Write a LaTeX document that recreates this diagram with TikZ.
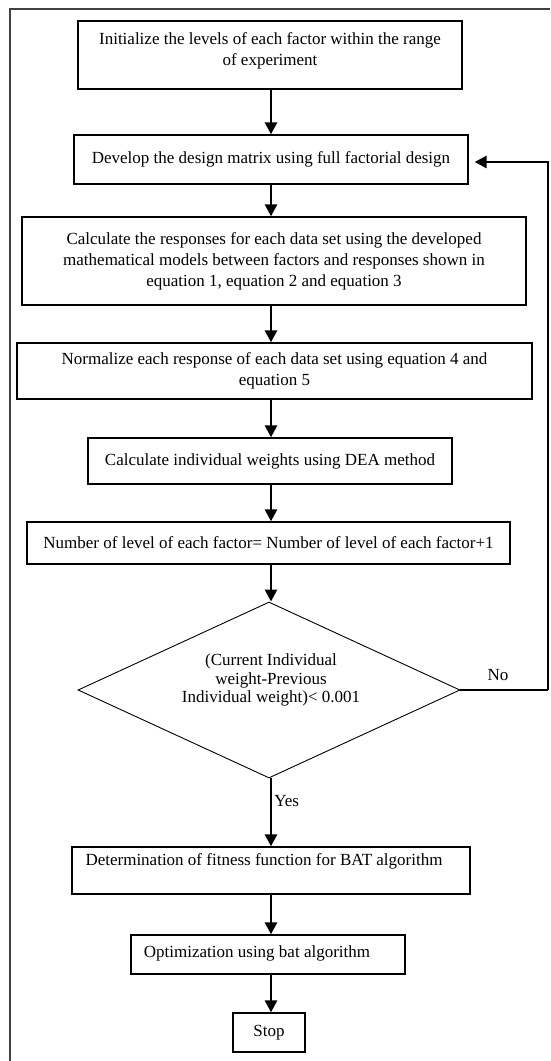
\documentclass[tikz,border=0pt]{standalone}
\usepackage{fontspec}
\setmainfont{Liberation Serif}
\usetikzlibrary{arrows.meta,shapes.geometric}
\begin{document}
\begin{tikzpicture}[x=1pt,y=-1pt,
  stepbox/.style={draw,line width=1.3pt,inner sep=0pt,font=\fontsize{17}{21}\selectfont,align=center},
  txt/.style={inner sep=0pt,font=\fontsize{17}{21}\selectfont,align=center},
  decision/.style={draw,diamond,line width=0.9pt,inner sep=0pt,minimum width=382pt,minimum height=176pt},
  flow/.style={line width=2.6pt,-{Triangle[length=12pt,width=12pt]}},
  loopline/.style={line width=2.4pt},
  frame/.style={line width=1.3pt,black!75}]
\useasboundingbox (0,0) rectangle (550,1061);
\fill[white] (0,0) rectangle (550,1061);
\coordinate (fb) at (10,1061);
\coordinate (fr) at (550,9);
\draw[frame] (fb) |- (fr);
\coordinate (col) at (271,0);
% boxes
\node[stepbox,minimum width=384pt,minimum height=68pt] (b1) at (270,55) {};
\node[txt] (t1) at (270,50.5) {Initialize the levels of each factor within the range\\of experiment};
\node[stepbox,minimum width=394pt,minimum height=49pt] (b2) at (271,159.5) {Develop the design matrix using full factorial design};
\node[stepbox,minimum width=504pt,minimum height=88pt] (b3) at (274,261) {Calculate the responses for each data set using the developed\\mathematical models between factors and responses shown in\\equation 1, equation 2 and equation 3};
\node[stepbox,minimum width=515pt,minimum height=56pt] (b4) at (274.5,371) {Normalize each response of each data set using equation 4 and\\equation 5};
\node[stepbox,minimum width=364pt,minimum height=46pt] (b5) at (270,461) {Calculate individual weights using DEA method};
\node[stepbox,minimum width=483pt,minimum height=42pt] (b6) at (268.5,543) {Number of level of each factor= Number of level of each factor+1};
\node[decision] (d) at (269,690) {};
\node[txt,font=\fontsize{17}{18.5}\selectfont] (dt) at (271,680) {(Current Individual\\weight-Previous\\Individual weight)< 0.001};
\node[stepbox,minimum width=398pt,minimum height=47pt] (b7) at (271,870.5) {};
\node[txt] (t7) at (264,861) {Determination of fitness function for BAT algorithm};
\node[stepbox,minimum width=274pt,minimum height=39pt] (b8) at (268,954.5) {};
\node[txt] (t8) at (257,953) {Optimization using bat algorithm};
\node[stepbox,minimum width=72pt,minimum height=39pt] (b9) at (269,1032.5) {Stop};
% connectors
\draw[flow] (b1.south -| col) -- (b2.north -| col);
\draw[flow] (b2.south -| col) -- (b3.north -| col);
\draw[flow] (b3.south -| col) -- (b4.north -| col);
\draw[flow] (b4.south -| col) -- (b5.north -| col);
\draw[flow] (b5.south -| col) -- (b6.north -| col);
\draw[flow] (b6.south -| col) -- (d.north -| col);
\draw[flow] (d.south -| col) -- node[pos=0.33,right=2pt,txt] (yes) {Yes} (b7.north -| col);
\draw[flow] (b7.south -| col) -- (b8.north -| col);
\draw[flow] (b8.south -| col) -- (b9.north -| col);
\coordinate (lr) at (548,0);
\coordinate (ay) at (0,162);
\draw[loopline] (d.east) -- (d.east -| lr);
\draw[flow] (d.east -| lr) |- ([xshift=6pt]b2.east |- ay);
\node[txt] (no) at (498,675) {No};
\end{tikzpicture}
\end{document}
